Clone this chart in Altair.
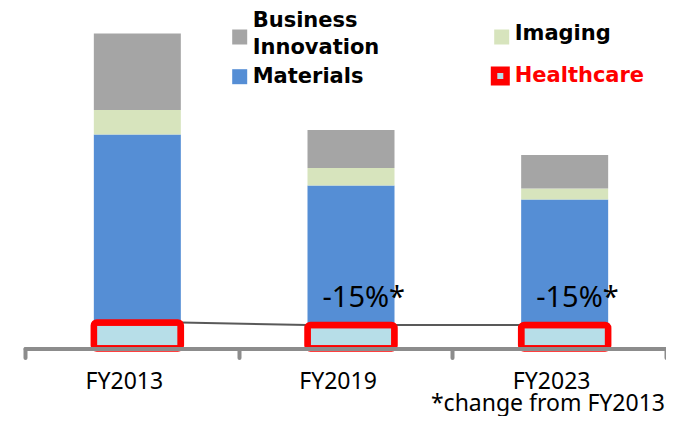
import altair as alt
import pandas as pd

# ---------------- data ----------------
years = ["FY2013", "FY2019", "FY2023"]
healthcare = [26.0, 23.5, 23.5]
materials = [188.0, 139.5, 125.5]
imaging = [24.5, 17.5, 11.0]
business_innovation = [76.5, 38.0, 33.5]
change_labels = ["", "-15%*", "-15%*"]
footnote = "*change from FY2013"

series_names = ["Healthcare", "Materials", "Imaging", "Business Innovation"]
series_colors = ["#b7dee8", "#558ed5", "#d7e4bd", "#a5a5a5"]
series_values = [healthcare, materials, imaging, business_innovation]

rows = []
for i, yr in enumerate(years):
    for k, (name, vals) in enumerate(zip(series_names, series_values)):
        rows.append({"year": yr, "series": name, "value": vals[i], "order": k})
df = pd.DataFrame(rows)

hc_df = pd.DataFrame({"year": years, "hc": healthcare, "note": change_labels})
conn_df = pd.DataFrame({
    "year": years[:-1], "next_year": years[1:],
    "hc": healthcare[:-1], "next_hc": healthcare[1:],
})

# ---------------- layout / style ----------------
W, H = 641, 330.5
BAR_W = 87
XOFF = 5.5
RED = "#ff0000"
AXIS_GRAY = "#8c8c8c"

x_scale = alt.Scale(domain=years, paddingInner=0, paddingOuter=0)
y_scale = alt.Scale(domain=[0, H], nice=False, zero=True)
color_scale = alt.Scale(domain=series_names, range=series_colors)

x_axis = alt.Axis(
    title=None, grid=False, labelAngle=0,
    domainColor=AXIS_GRAY, domainWidth=4, domainCap="round",
    tickColor=AXIS_GRAY, tickWidth=4, tickSize=9, tickCap="round",
    tickBand="extent",
    labelFont="Noto Sans", labelFontSize=23, labelColor="black",
    labelBaseline="alphabetic", labelPadding=31, labelOffset=-8, zindex=1,
)

bars = alt.Chart(df).mark_bar(width=BAR_W, xOffset=XOFF).encode(
    x=alt.X("year:N", scale=x_scale, sort=years, axis=x_axis),
    y=alt.Y("value:Q", stack="zero", scale=y_scale, axis=None),
    color=alt.Color("series:N", scale=color_scale, legend=None),
    order=alt.Order("order:Q", sort="ascending"),
)

conn = alt.Chart(conn_df).mark_rule(
    color="#595959", strokeWidth=2, xOffset=XOFF + BAR_W / 2, x2Offset=XOFF - BAR_W / 2
).encode(
    x=alt.X("year:N", scale=x_scale, sort=years),
    x2="next_year:N",
    y=alt.Y("hc:Q", scale=y_scale, axis=None),
    y2="next_hc:Q",
)

hc_box = alt.Chart(hc_df).mark_bar(
    width=BAR_W, xOffset=XOFF, fill=series_colors[0], stroke=RED,
    strokeWidth=6.5, cornerRadius=3,
).encode(
    x=alt.X("year:N", scale=x_scale, sort=years),
    y=alt.Y("hc:Q", scale=y_scale, axis=None),
)

notes = alt.Chart(hc_df).transform_filter("datum.note != ''").mark_text(
    font="Noto Sans", fontSize=29, align="left", baseline="alphabetic",
    dx=-23, dy=-18.5, color="black",
).encode(
    x=alt.X("year:N", scale=x_scale, sort=years),
    y=alt.Y("hc:Q", scale=y_scale, axis=None),
    text="note:N",
)

one = pd.DataFrame({"k": [0]})

def leg_square(cx, cy, color, size=225, stroke=None, sw=0):
    kw = dict(shape="square", size=size, fill=color, opacity=1, filled=True)
    if stroke:
        kw.update(stroke=stroke, strokeWidth=sw, strokeOpacity=1)
    return alt.Chart(one).mark_point(**kw).encode(x=alt.value(cx), y=alt.value(cy))

def leg_text(tx, ty, text, color="black"):
    return alt.Chart(one).mark_text(
        font="DejaVu Sans", fontWeight="bold", fontSize=21, align="left",
        baseline="alphabetic", color=color, lineBreak="\n", lineHeight=27.6,
    ).encode(x=alt.value(tx), y=alt.value(ty), text=alt.value(text))

legend = [
    leg_square(214.7, 19, series_colors[3]),
    leg_text(227.7, 8.7, "Business\nInnovation"),
    leg_square(214.7, 58.7, series_colors[1]),
    leg_text(227.7, 65.3, "Materials"),
    leg_square(476.7, 19, series_colors[2]),
    leg_text(489.7, 22, "Imaging"),
    leg_square(475.3, 58, series_colors[0], size=156, stroke=RED, sw=6.5),
    leg_text(489.7, 64, "Healthcare", color=RED),
]

foot = alt.Chart(one).mark_text(
    font="Noto Sans", fontSize=23, align="right", baseline="alphabetic", color="black"
).encode(x=alt.value(640), y=alt.value(392.5), text=alt.value(footnote))

chart = alt.layer(bars, conn, hc_box, notes, foot, *legend).properties(
    width=W, height=H,
    autosize=alt.AutoSizeParams(type="none"),
    padding={"left": 17, "top": 10, "right": 0, "bottom": 67.5},
).configure_view(stroke=None)

chart.save("out.html", embed_options={"renderer": "svg", "actions": False})
